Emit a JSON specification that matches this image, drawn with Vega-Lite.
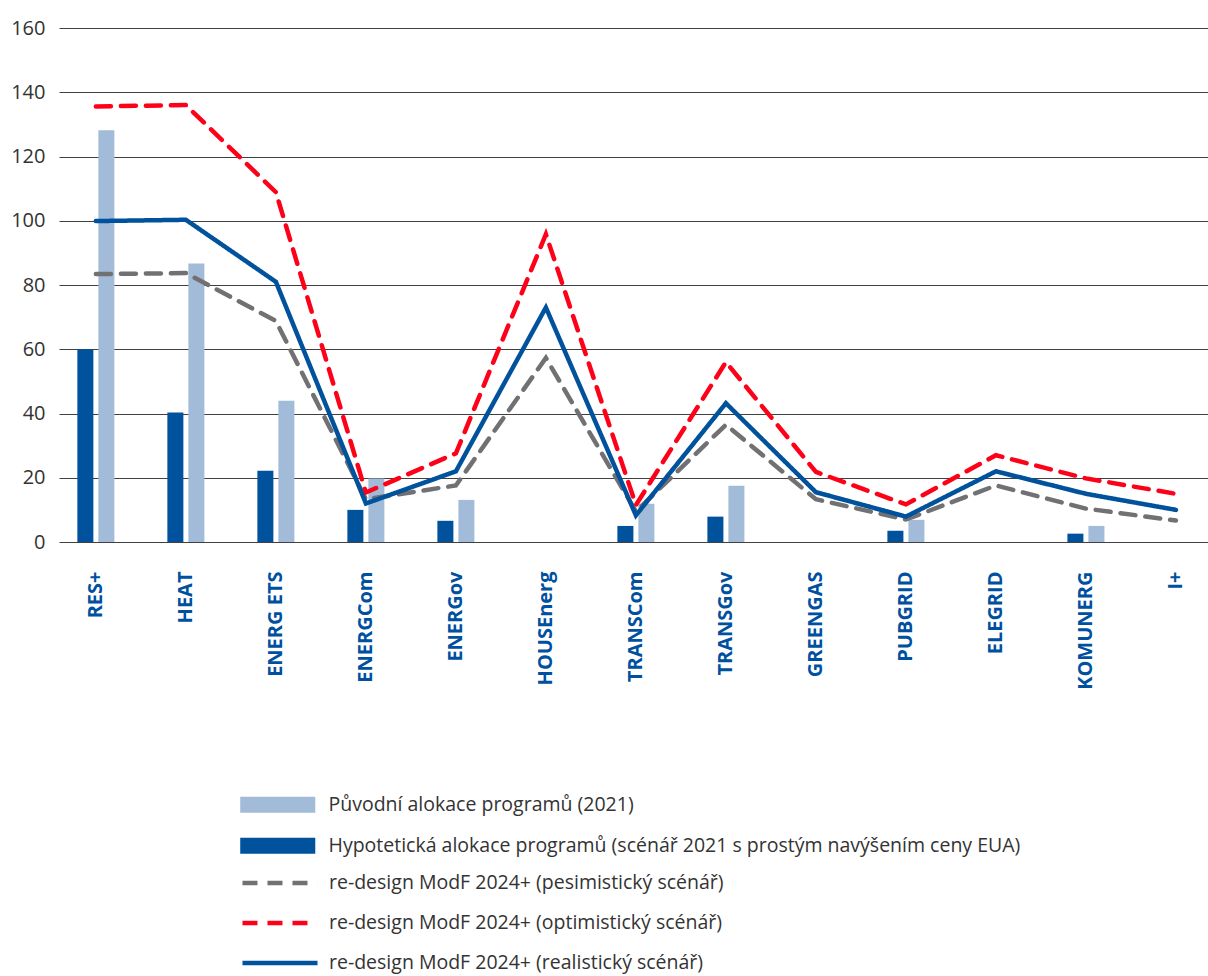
{
  "$schema": "https://vega.github.io/schema/vega-lite/v6.json",
  "width": 1149,
  "height": 514,
  "autosize": {"type": "none"},
  "padding": {"left": 59, "top": 28, "right": 0, "bottom": 434},
  "background": "white",
  "config": {"font": "Open Sans", "view": {"stroke": null}},
  "datasets": {
    "bars": [
      {"program": "RES+", "series": "Hypotetická alokace programů (scénář 2021 s prostým navýšením ceny EUA)", "value": 60},
      {"program": "RES+", "series": "Původní alokace programů (2021)", "value": 128.2},
      {"program": "HEAT", "series": "Hypotetická alokace programů (scénář 2021 s prostým navýšením ceny EUA)", "value": 40.3},
      {"program": "HEAT", "series": "Původní alokace programů (2021)", "value": 86.7},
      {"program": "ENERG ETS", "series": "Hypotetická alokace programů (scénář 2021 s prostým navýšením ceny EUA)", "value": 22.2},
      {"program": "ENERG ETS", "series": "Původní alokace programů (2021)", "value": 44},
      {"program": "ENERGCom", "series": "Hypotetická alokace programů (scénář 2021 s prostým navýšením ceny EUA)", "value": 10},
      {"program": "ENERGCom", "series": "Původní alokace programů (2021)", "value": 19.8},
      {"program": "ENERGov", "series": "Hypotetická alokace programů (scénář 2021 s prostým navýšením ceny EUA)", "value": 6.6},
      {"program": "ENERGov", "series": "Původní alokace programů (2021)", "value": 13.1},
      {"program": "TRANSCom", "series": "Hypotetická alokace programů (scénář 2021 s prostým navýšením ceny EUA)", "value": 5},
      {"program": "TRANSCom", "series": "Původní alokace programů (2021)", "value": 11.9},
      {"program": "TRANSGov", "series": "Hypotetická alokace programů (scénář 2021 s prostým navýšením ceny EUA)", "value": 7.9},
      {"program": "TRANSGov", "series": "Původní alokace programů (2021)", "value": 17.5},
      {"program": "PUBGRID", "series": "Hypotetická alokace programů (scénář 2021 s prostým navýšením ceny EUA)", "value": 3.5},
      {"program": "PUBGRID", "series": "Původní alokace programů (2021)", "value": 6.9},
      {"program": "KOMUNERG", "series": "Hypotetická alokace programů (scénář 2021 s prostým navýšením ceny EUA)", "value": 2.6},
      {"program": "KOMUNERG", "series": "Původní alokace programů (2021)", "value": 5}
    ],
    "lines": [
      {"program": "RES+", "scenario": "re-design ModF 2024+ (pesimistický scénář)", "value": 83.4},
      {"program": "HEAT", "scenario": "re-design ModF 2024+ (pesimistický scénář)", "value": 83.7},
      {"program": "ENERG ETS", "scenario": "re-design ModF 2024+ (pesimistický scénář)", "value": 68.8},
      {"program": "ENERGCom", "scenario": "re-design ModF 2024+ (pesimistický scénář)", "value": 13.3},
      {"program": "ENERGov", "scenario": "re-design ModF 2024+ (pesimistický scénář)", "value": 17.6},
      {"program": "HOUSEnerg", "scenario": "re-design ModF 2024+ (pesimistický scénář)", "value": 57.3},
      {"program": "TRANSCom", "scenario": "re-design ModF 2024+ (pesimistický scénář)", "value": 9.5},
      {"program": "TRANSGov", "scenario": "re-design ModF 2024+ (pesimistický scénář)", "value": 36.5},
      {"program": "GREENGAS", "scenario": "re-design ModF 2024+ (pesimistický scénář)", "value": 13.3},
      {"program": "PUBGRID", "scenario": "re-design ModF 2024+ (pesimistický scénář)", "value": 7},
      {"program": "ELEGRID", "scenario": "re-design ModF 2024+ (pesimistický scénář)", "value": 17.6},
      {"program": "KOMUNERG", "scenario": "re-design ModF 2024+ (pesimistický scénář)", "value": 10.4},
      {"program": "I+", "scenario": "re-design ModF 2024+ (pesimistický scénář)", "value": 6.7},
      {"program": "RES+", "scenario": "re-design ModF 2024+ (optimistický scénář)", "value": 135.6},
      {"program": "HEAT", "scenario": "re-design ModF 2024+ (optimistický scénář)", "value": 136},
      {"program": "ENERG ETS", "scenario": "re-design ModF 2024+ (optimistický scénář)", "value": 108.9},
      {"program": "ENERGCom", "scenario": "re-design ModF 2024+ (optimistický scénář)", "value": 15.4},
      {"program": "ENERGov", "scenario": "re-design ModF 2024+ (optimistický scénář)", "value": 27.6},
      {"program": "HOUSEnerg", "scenario": "re-design ModF 2024+ (optimistický scénář)", "value": 95.8},
      {"program": "TRANSCom", "scenario": "re-design ModF 2024+ (optimistický scénář)", "value": 11.5},
      {"program": "TRANSGov", "scenario": "re-design ModF 2024+ (optimistický scénář)", "value": 56},
      {"program": "GREENGAS", "scenario": "re-design ModF 2024+ (optimistický scénář)", "value": 21.8},
      {"program": "PUBGRID", "scenario": "re-design ModF 2024+ (optimistický scénář)", "value": 11.7},
      {"program": "ELEGRID", "scenario": "re-design ModF 2024+ (optimistický scénář)", "value": 27},
      {"program": "KOMUNERG", "scenario": "re-design ModF 2024+ (optimistický scénář)", "value": 19.8},
      {"program": "I+", "scenario": "re-design ModF 2024+ (optimistický scénář)", "value": 15},
      {"program": "RES+", "scenario": "re-design ModF 2024+ (realistický scénář)", "value": 99.9},
      {"program": "HEAT", "scenario": "re-design ModF 2024+ (realistický scénář)", "value": 100.3},
      {"program": "ENERG ETS", "scenario": "re-design ModF 2024+ (realistický scénář)", "value": 81},
      {"program": "ENERGCom", "scenario": "re-design ModF 2024+ (realistický scénář)", "value": 12},
      {"program": "ENERGov", "scenario": "re-design ModF 2024+ (realistický scénář)", "value": 22},
      {"program": "HOUSEnerg", "scenario": "re-design ModF 2024+ (realistický scénář)", "value": 73},
      {"program": "TRANSCom", "scenario": "re-design ModF 2024+ (realistický scénář)", "value": 8.3},
      {"program": "TRANSGov", "scenario": "re-design ModF 2024+ (realistický scénář)", "value": 43.2},
      {"program": "GREENGAS", "scenario": "re-design ModF 2024+ (realistický scénář)", "value": 15.5},
      {"program": "PUBGRID", "scenario": "re-design ModF 2024+ (realistický scénář)", "value": 7.9},
      {"program": "ELEGRID", "scenario": "re-design ModF 2024+ (realistický scénář)", "value": 22},
      {"program": "KOMUNERG", "scenario": "re-design ModF 2024+ (realistický scénář)", "value": 15},
      {"program": "I+", "scenario": "re-design ModF 2024+ (realistický scénář)", "value": 10}
    ]
  },
  "layer": [
    {
      "data": {"name": "bars"},
      "mark": {"type": "bar"},
      "encoding": {
        "x": {
          "field": "program", "type": "nominal",
          "scale": {"domain": ["RES+", "HEAT", "ENERG ETS", "ENERGCom", "ENERGov", "HOUSEnerg", "TRANSCom", "TRANSGov", "GREENGAS", "PUBGRID", "ELEGRID", "KOMUNERG", "I+"], "paddingInner": 0.5, "paddingOuter": 0.133, "align": 0.6},
          "axis": {"title": null, "labelAngle": -90, "labelFontSize": 20, "labelFontWeight": "bold", "labelColor": "#0050A0", "labelPadding": 29, "domain": false, "ticks": false, "grid": false}
        },
        "xOffset": {
          "field": "series", "type": "nominal",
          "scale": {"domain": ["Hypotetická alokace programů (scénář 2021 s prostým navýšením ceny EUA)", "Původní alokace programů (2021)"], "paddingInner": 0.238, "paddingOuter": 0.19}
        },
        "y": {
          "field": "value", "type": "quantitative",
          "scale": {"domain": [0, 160]},
          "axis": {"title": null, "values": [0, 20, 40, 60, 80, 100, 120, 140, 160], "labelFontSize": 20, "labelColor": "#333333", "labelPadding": 14, "domain": false, "ticks": false, "grid": true, "gridColor": "#404040", "gridWidth": 1, "gridOpacity": 1}
        },
        "fill": {
          "field": "series", "type": "nominal",
          "scale": {"domain": ["Původní alokace programů (2021)", "Hypotetická alokace programů (scénář 2021 s prostým navýšením ceny EUA)"], "range": ["#A2BBD8", "#00529C"]},
          "legend": {"orient": "none", "legendX": 209, "legendY": 767, "title": null, "padding": 0, "symbolType": "M-4,-0.85H4V0.85H-4Z", "symbolSize": 352, "symbolStrokeWidth": 0, "labelFontSize": 19.5, "labelColor": "#333333", "labelOffset": 41, "rowPadding": 20, "labelLimit": 1000}
        }
      }
    },
    {
      "data": {"name": "lines"},
      "mark": {"type": "line", "strokeWidth": 4.5, "strokeCap": "round"},
      "encoding": {
        "x": {"field": "program", "type": "nominal"},
        "y": {"field": "value", "type": "quantitative"},
        "stroke": {
          "field": "scenario", "type": "nominal",
          "scale": {"domain": ["re-design ModF 2024+ (pesimistický scénář)", "re-design ModF 2024+ (optimistický scénář)", "re-design ModF 2024+ (realistický scénář)"], "range": ["#717174", "#FF0019", "#00529C"]},
          "legend": {"orient": "none", "legendX": 209, "legendY": 843, "title": null, "padding": 0, "symbolType": "M-4,0H4", "symbolSize": 352, "symbolStrokeWidth": 4.5, "labelFontSize": 19.5, "labelColor": "#333333", "labelOffset": 37, "rowPadding": 18, "labelLimit": 1000}
        },
        "strokeDash": {
          "field": "scenario", "type": "nominal",
          "scale": {"domain": ["re-design ModF 2024+ (pesimistický scénář)", "re-design ModF 2024+ (optimistický scénář)", "re-design ModF 2024+ (realistický scénář)"], "range": [[15, 10], [15, 10], [1, 0]]},
          "legend": {"orient": "none", "legendX": 209, "legendY": 843, "title": null, "padding": 0, "symbolType": "M-4,0H4", "symbolSize": 352, "symbolStrokeWidth": 4.5, "labelFontSize": 19.5, "labelColor": "#333333", "labelOffset": 37, "rowPadding": 18, "labelLimit": 1000}
        }
      }
    }
  ]
}
